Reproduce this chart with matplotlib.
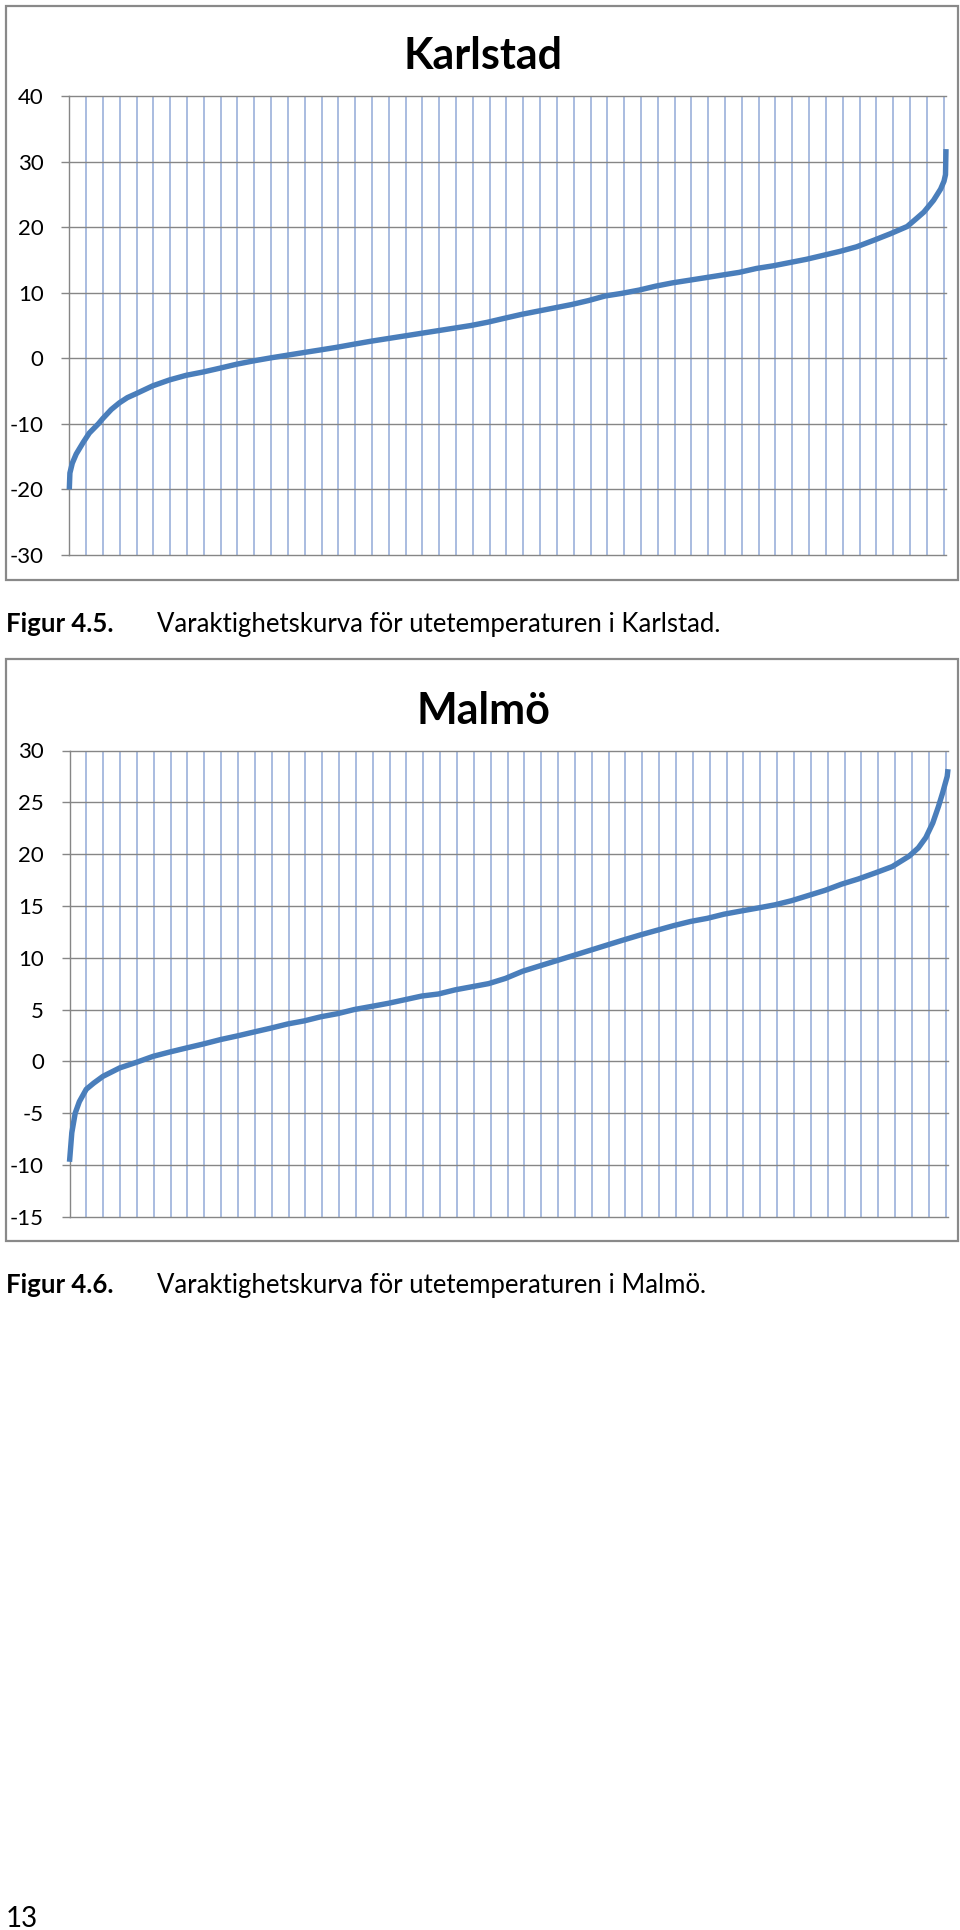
import numpy as np
import matplotlib
matplotlib.use('Agg')
import matplotlib.pyplot as plt
from matplotlib.patches import Rectangle

plt.rcParams['font.family'] = ['Lato', 'DejaVu Sans']
plt.rcParams['axes.unicode_minus'] = False

# Varaktighetskurvor, timmar 0..8760 och temperatur
karlstad_h = [0, 6, 30, 69, 140, 200, 290, 334, 420, 500, 580, 667, 834, 1001,
              1167, 1334, 1507, 1673, 1840, 2007, 2174, 2340, 2507, 2674, 2841,
              3013, 3180, 3347, 3513, 3680, 3847, 4014, 4180, 4347, 4520, 4686,
              4853, 5020, 5187, 5353, 5520, 5693, 5859, 6026, 6193, 6360, 6526,
              6693, 6866, 7032, 7199, 7366, 7533, 7699, 7866, 8039, 8205, 8372,
              8464, 8539, 8636, 8706, 8740, 8755, 8760]
karlstad_t = [-20.0, -17.5, -16.0, -14.6, -12.8, -11.4, -10.0, -9.2, -7.8, -6.8,
              -6.0, -5.4, -4.2, -3.3, -2.6, -2.1, -1.5, -0.9, -0.4, 0.05, 0.46,
              0.87, 1.27, 1.68, 2.14, 2.6, 3.0, 3.4, 3.8, 4.2, 4.6, 5.0, 5.5, 6.1,
              6.7, 7.2, 7.7, 8.2, 8.8, 9.5, 9.9, 10.4, 11.0, 11.5, 11.9, 12.3,
              12.7, 13.1, 13.7, 14.1, 14.6, 15.1, 15.7, 16.3, 17.0, 18.0, 19.0,
              20.1, 21.3, 22.3, 24.1, 25.8, 27.0, 28.0, 31.9]

malmo_h = [0, 23, 57, 98, 167, 242, 334, 500, 667, 834, 1001, 1167, 1334, 1507,
           1673, 1840, 2007, 2174, 2340, 2507, 2674, 2841, 3013, 3180, 3347, 3513,
           3680, 3847, 4014, 4180, 4347, 4520, 4686, 4853, 5020, 5187, 5353, 5520,
           5693, 5859, 6026, 6193, 6360, 6526, 6693, 6866, 7032, 7199, 7366, 7533,
           7699, 7866, 8039, 8205, 8372, 8464, 8539, 8608, 8665, 8706, 8752, 8760]
malmo_t = [-9.7, -6.9, -5.0, -3.9, -2.7, -2.1, -1.45, -0.64, -0.1, 0.48, 0.9,
           1.29, 1.67, 2.1, 2.45, 2.83, 3.2, 3.6, 3.9, 4.3, 4.6, 5.0, 5.3, 5.6,
           5.95, 6.3, 6.5, 6.9, 7.2, 7.5, 8.0, 8.7, 9.2, 9.7, 10.2, 10.7, 11.2,
           11.7, 12.2, 12.65, 13.1, 13.5, 13.8, 14.2, 14.5, 14.8, 15.1, 15.5,
           16.0, 16.5, 17.1, 17.6, 18.2, 18.8, 19.8, 20.6, 21.6, 23.0, 24.6,
           25.9, 27.5, 28.2]

W, H = 960, 1930
GRAA = '#868686'
LJUSBLA = '#A9BCE0'
LINJE = '#4A7EBB'


def px(x0, y0, x1, y1):
    return [x0 / W, 1 - y1 / H, (x1 - x0) / W, (y1 - y0) / H]


def rita(ax, timmar, temp, ymin, ymax, steg):
    ax.set_xlim(0, 8760)
    ax.set_ylim(ymin, ymax)
    for h in range(168, 8760, 168):
        ax.axvline(h, color=LJUSBLA, lw=1.4, zorder=1)
    ax.set_yticks(np.arange(ymin, ymax + 1, steg))
    ax.set_xticks([])
    ax.yaxis.grid(True, color=GRAA, lw=1.0, zorder=2)
    for g in ax.get_ygridlines():
        g.set_clip_on(False)
    for s in ['top', 'right', 'bottom']:
        ax.spines[s].set_visible(False)
    ax.spines['left'].set_color(GRAA)
    ax.spines['left'].set_linewidth(1.0)
    ax.tick_params(axis='y', length=5.5, width=1.0, color=GRAA, pad=13,
                   labelsize=16, labelcolor='black')
    ax.plot(timmar, temp, color=LINJE, lw=3.9, zorder=3, clip_on=False,
            solid_joinstyle='round', solid_capstyle='butt')


fig = plt.figure(figsize=(W / 100, H / 100), dpi=100)

ax1 = fig.add_axes(px(69.3, 96, 946, 555))
rita(ax1, karlstad_h, karlstad_t, -30, 40, 10)
ax2 = fig.add_axes(px(69.5, 750.5, 948, 1216.7))
rita(ax2, malmo_h, malmo_t, -15, 30, 5)

# ramar runt diagrammen
for y0, y1 in [(5.5, 580), (659, 1241)]:
    fig.patches.append(Rectangle((5.5 / W, 1 - y1 / H), 952 / W, (y1 - y0) / H,
                                 transform=fig.transFigure, fill=False,
                                 ec='#898989', lw=1.6))

fig.text(483 / W, 1 - 56 / H, 'Karlstad', ha='center', va='center',
         fontsize=31, fontweight='bold')
fig.text(483 / W, 1 - 711 / H, 'Malmö', ha='center', va='center',
         fontsize=31, fontweight='bold')

for yb, stad in [(631.7, 'Karlstad'), (1292.6, 'Malmö')]:
    nr = '4.5.' if stad == 'Karlstad' else '4.6.'
    fig.text(6 / W, 1 - yb / H, 'Figur ' + nr, fontsize=18.5,
             fontweight='bold', va='baseline')
    fig.text(157 / W, 1 - yb / H,
             'Varaktighetskurva för utetemperaturen i ' + stad + '.',
             fontsize=18.5, va='baseline')

fig.text(6 / W, 1 - 1927 / H, '13', fontsize=20, va='baseline')

fig.savefig('out.png', dpi=100)
